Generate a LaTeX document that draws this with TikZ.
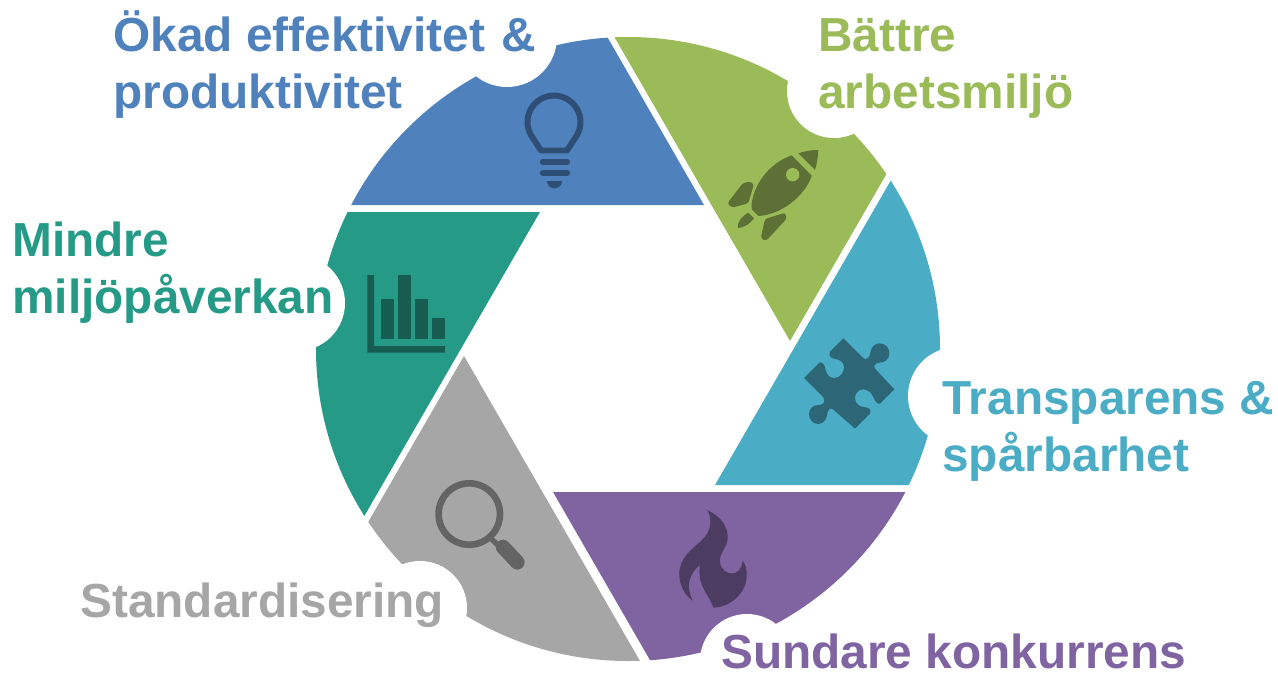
\documentclass[tikz,border=0pt]{standalone}
\usepackage{fontspec}
\setmainfont{Liberation Sans}
\definecolor{segBlue}{HTML}{4F81BD}
\definecolor{segGreen}{HTML}{9BBB59}
\definecolor{segCyan}{HTML}{4BACC6}
\definecolor{segPurple}{HTML}{8064A2}
\definecolor{segGray}{HTML}{A6A6A6}
\definecolor{segTeal}{HTML}{259A87}
\definecolor{iconBlue}{HTML}{2F4E75}
\definecolor{iconGreen}{HTML}{5D7035}
\definecolor{iconCyan}{HTML}{2D6677}
\definecolor{iconPurple}{HTML}{4D3C61}
\definecolor{iconGray}{HTML}{646464}
\definecolor{iconTeal}{HTML}{165C51}
\usetikzlibrary{calc,positioning}
\tikzset{
  labeltext/.style={font=\fontsize{27.2}{32}\selectfont\bfseries, align=left, inner sep=0pt, anchor=base west},
  notch/.style={fill=white},
}

\begin{document}
\begin{tikzpicture}[x=0.02cm,y=0.02cm,yscale=-1]
  \useasboundingbox (0,0) rectangle (1278,676);
  % the six blades
  \begin{scope}
    \clip (628,349) circle (312);
    \fill[segBlue] (704,205) -- (586,0) -- (300,0) -- (300,205) -- cycle;
    \fill[segGreen] (790,341) -- (593,0) -- (987,0) -- cycle;
    \fill[segCyan] (715,485) -- (995,0) -- (1000,485) -- cycle;
    \fill[segPurple] (553,492) -- (673,700) -- (1000,700) -- (1000,492) -- cycle;
    \fill[segGray] (464,356) -- (662.5,700) -- (265.5,700) -- cycle;
    \fill[segTeal] (540,212) -- (258,700) -- (258,212) -- cycle;
  \end{scope}
  % bites taken out for the labels
  \fill[notch] (507,37) circle (50);
  \fill[notch] (834,91) circle (47);
  \fill[notch] (957,396) circle (49);
  \fill[notch] (747,661) circle (47);
  \fill[notch] (420,608) circle (47);
  \fill[notch] (297,303) circle (48);
  % bulb
  \draw[iconBlue, line width=3.4pt, line join=round] (567,150.5) -- (576.95,135.25)
    arc[start angle=30, end angle=-210, radius=26.5] -- (541,150.5) -- cycle;
  \draw[iconBlue, line width=3.6pt, line cap=round] (543,161.7) -- (567,161.7);
  \draw[iconBlue, line width=3.6pt, line cap=round] (543,173) -- (567,173);
  \fill[iconBlue] (547,181) -- (562,181) arc[start angle=0, end angle=180, radius=7.5] -- cycle;
  % rocket
  \fill[iconGreen] (791.7,155.3) .. controls (773,161.7) and (755,180) .. (751.7,203.3)
    -- (751.7,209.3) -- (758.3,216) .. controls (780,215) and (805,196.7) .. (811.7,175.7) -- cycle;
  \fill[segGreen] (792.7,174.7) circle (6.7);
  \fill[iconGreen] (798.3,153.3) .. controls (805,151) and (812,150) .. (818.3,150)
    .. controls (818,157) and (817,164) .. (815,170) -- cycle;
  \fill[iconGreen, rounded corners=1.5pt] (743,183) -- (750,181.7) -- (754,184) -- (748.3,203.3)
    -- (731.7,207.7) -- (727.3,203.3) -- cycle;
  \fill[iconGreen, rounded corners=1.5pt] (765,219) -- (785,212.7) -- (787,218.3) -- (766,241)
    -- (760.7,238.3) -- cycle;
  \fill[iconGreen] (748.3,212.7) .. controls (742,216) and (737,222) .. (737.7,228)
    .. controls (743,228) and (750,224) .. (754,218.3) -- cycle;
  % puzzle piece
  \begin{scope}[shift={(780,310)},scale=1/3]
    \fill[iconCyan] (190,85) -- (250,145) .. controls (262,152) and (270,140) .. (272,125)
      .. controls (274,110) and (285,100) .. (298,100) .. controls (316,100) and (328,113) .. (328,130)
      .. controls (328,148) and (315,158) .. (298,158) .. controls (285,158) and (278,170) .. (287,178)
      -- (343,238) -- (300,281) .. controls (292,285) and (285,272) .. (280,262)
      .. controls (275,248) and (262,238) .. (250,238) .. controls (235,238) and (225,250) .. (225,265)
      .. controls (225,285) and (245,292) .. (258,292) .. controls (268,294) and (275,300) .. (270,311)
      -- (225,356) -- (158,297) .. controls (150,292) and (143,300) .. (142,312)
      .. controls (140,330) and (128,342) .. (115,342) .. controls (98,342) and (87,328) .. (87,312)
      .. controls (87,295) and (100,285) .. (115,285) .. controls (128,285) and (138,278) .. (130,262)
      -- (72,204) -- (118,158) .. controls (128,155) and (135,165) .. (137,180)
      .. controls (140,195) and (150,204) .. (162,204) .. controls (178,204) and (192,190) .. (192,172)
      .. controls (192,155) and (178,148) .. (165,147) .. controls (152,146) and (145,135) .. (150,125) -- cycle;
  \end{scope}
  % flame
  \fill[iconPurple] (707.3,510) .. controls (722,517) and (729,528) .. (727.5,540)
    .. controls (726,549) and (719,553) .. (720,562)
    .. controls (721,570) and (727,573.5) .. (732,573.5)
    .. controls (738,573.5) and (742,568) .. (742.7,560.7)
    .. controls (746,565) and (747,570) .. (746.7,577)
    .. controls (746,592) and (732,607) .. (713.3,607.7)
    .. controls (711,600) and (705,593) .. (702,585)
    .. controls (699,578) and (699,571) .. (700,565)
    .. controls (693,570) and (688,580) .. (689,588)
    .. controls (689.5,593) and (691,597) .. (692.7,600.7)
    .. controls (684,595) and (679,584) .. (679.3,573.3)
    .. controls (679.5,558) and (692,549) .. (701,541)
    .. controls (711,532) and (713,520) .. (707.3,510) -- cycle;
  % magnifier
  \draw[iconGray, line width=3.8pt] (469.3,514) circle (30.7);
  \draw[iconGray, line width=3pt] (491.7,539.3) -- (500,547);
  \draw[iconGray, line width=8.3pt, line cap=round] (503,547) -- (517.3,562.3);
  % bar chart
  \fill[iconTeal] (367.3,275) -- (374,275) -- (374,346) -- (445,346) -- (445,352.7) -- (367.3,352.7) -- cycle;
  \fill[iconTeal] (381,299) rectangle (394,339);
  \fill[iconTeal] (398,275) rectangle (411,339);
  \fill[iconTeal] (415,299) rectangle (428,339);
  \fill[iconTeal] (432,318) rectangle (445,339);
  % labels
  \node[labeltext, text=segBlue] (effektivitet) at (113,108) {Ökad effektivitet\hspace{1.5pt} \&\\produktivitet};
  \node[labeltext, text=segGreen] (arbetsmiljo) at (818,108) {Bättre\\arbetsmiljö};
  \node[labeltext, text=segCyan] (transparens) at (942,471) {Transparens \&\\spårbarhet};
  \node[labeltext, text=segPurple] (konkurrens) at (721,668) {Sundare konkurrens};
  \node[labeltext, text=segGray] (standard) at (80,617) {Standardisering};
  \node[labeltext, text=segTeal] (miljo) at (12,313) {Mindre\\miljöpåverkan};
\end{tikzpicture}
\end{document}
